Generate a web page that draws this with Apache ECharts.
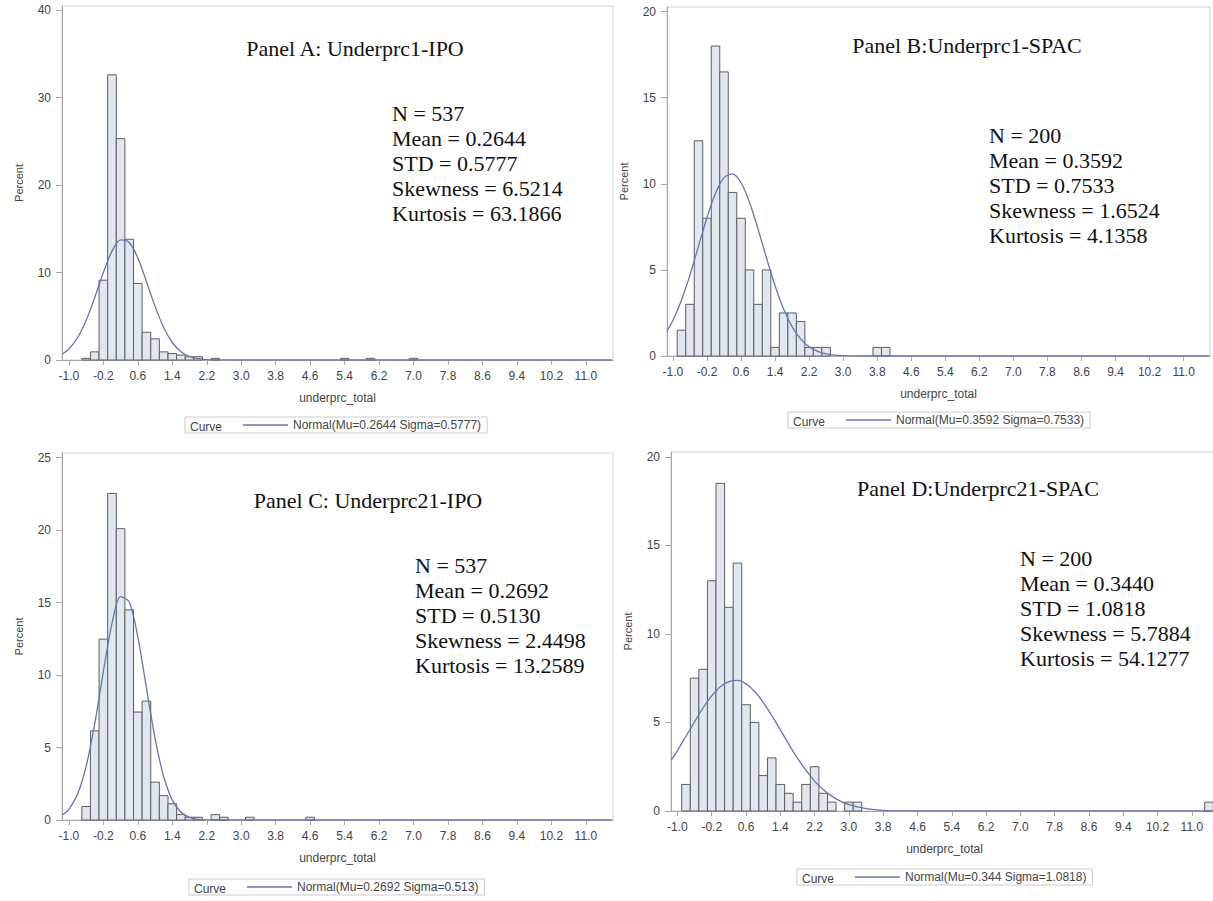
<!DOCTYPE html>
<html>
<head>
<meta charset="utf-8">
<title>underprc_total histograms</title>
<script src="https://cdn.jsdelivr.net/npm/echarts@6/dist/echarts.min.js"></script>
<style>
  html, body { margin: 0; padding: 0; background: #fff; }
  #main { width: 1213px; height: 901px; }
</style>
</head>
<body>
<div id="main"></div>
<script>
// every histogram uses bins 0.2 wide, given by their midpoints
var BIN_WIDTH = 0.2;

// Panel A: Underprc1-IPO
var binsA = [-0.6, -0.4, -0.2, 0.0, 0.2, 0.4, 0.6, 0.8, 1.0, 1.2, 1.4, 1.6, 1.8, 2.0, 2.4, 5.4, 6.0, 7.0];
var pctA  = [0.19, 0.93, 9.12, 32.6, 25.3, 13.8, 8.75, 3.17, 2.42, 0.93, 0.74, 0.56, 0.37, 0.37, 0.19, 0.19, 0.19, 0.19];
var curveXA = [-1.15, -1.0, -0.8, -0.6, -0.4, -0.2, 0.0, 0.2, 0.4, 0.6, 0.8, 1.0, 1.2, 1.4, 1.6, 1.8, 2.0, 2.2, 2.4, 2.8, 11.6];
var curveYA = [0.69, 1.26, 2.54, 4.52, 7.14, 10.0, 12.44, 13.72, 13.43, 11.67, 8.98, 6.13, 3.72, 2.0, 0.95, 0.40, 0.15, 0.05, 0.02, 0, 0];

// Panel B: Underprc1-SPAC
var binsB = [-0.8, -0.6, -0.4, -0.2, 0.0, 0.2, 0.4, 0.6, 0.8, 1.0, 1.2, 1.4, 1.6, 1.8, 2.0, 2.2, 2.4, 2.6, 3.8, 4.0];
var pctB  = [1.5, 3.0, 12.5, 8.0, 18.0, 16.5, 9.5, 8.0, 5.0, 3.0, 5.0, 0.5, 2.5, 2.5, 2.0, 0.5, 0.5, 0.5, 0.5, 0.5];
var curveXB = [-1.14, -1.0, -0.8, -0.6, -0.4, -0.2, 0.0, 0.2, 0.4, 0.6, 0.8, 1.0, 1.2, 1.4, 1.6, 1.8, 2.0, 2.2, 2.4, 2.6, 2.8, 3.0, 3.4, 11.6];
var curveYB = [1.46, 2.08, 3.24, 4.71, 6.37, 8.04, 9.45, 10.36, 10.58, 10.06, 8.92, 7.37, 5.68, 4.08, 2.73, 1.70, 0.99, 0.53, 0.27, 0.13, 0.05, 0.02, 0, 0];

// Panel C: Underprc21-IPO
var binsC = [-0.6, -0.4, -0.2, 0.0, 0.2, 0.4, 0.6, 0.8, 1.0, 1.2, 1.4, 1.6, 1.8, 2.0, 2.4, 2.6, 3.2, 4.6];
var pctC  = [0.93, 6.15, 12.48, 22.53, 20.1, 14.5, 7.45, 8.2, 2.61, 1.68, 1.12, 0.37, 0.19, 0.19, 0.37, 0.19, 0.19, 0.19];
var curveXC = [-1.15, -1.0, -0.8, -0.6, -0.4, -0.2, 0.0, 0.2, 0.4, 0.6, 0.8, 1.0, 1.2, 1.4, 1.6, 1.8, 2.0, 2.2, 2.6, 11.6];
var curveYC = [0.34, 0.73, 1.77, 3.70, 6.65, 10.24, 13.55, 15.41, 15.05, 12.63, 9.10, 5.64, 3.00, 1.37, 0.54, 0.18, 0.05, 0.01, 0, 0];

// Panel D: Underprc21-SPAC
var binsD = [-0.8, -0.6, -0.4, -0.2, 0.0, 0.2, 0.4, 0.6, 0.8, 1.0, 1.2, 1.4, 1.6, 1.8, 2.0, 2.2, 2.4, 2.6, 3.0, 3.2, 11.4];
var pctD  = [1.5, 7.5, 8.0, 13.0, 18.5, 11.5, 14.0, 6.0, 5.0, 2.0, 3.0, 1.5, 1.0, 0.5, 1.5, 2.5, 1.0, 0.5, 0.5, 0.5, 0.5];
var curveXD = [-1.14, -1.0, -0.8, -0.6, -0.4, -0.2, 0.0, 0.2, 0.4, 0.6, 0.8, 1.0, 1.2, 1.4, 1.6, 1.8, 2.0, 2.2, 2.4, 2.6, 2.8, 3.0, 3.2, 3.4, 3.6, 3.8, 4.2, 4.6, 11.6];
var curveYD = [2.88, 3.41, 4.22, 5.04, 5.83, 6.50, 7.02, 7.31, 7.37, 7.18, 6.75, 6.14, 5.40, 4.58, 3.76, 2.98, 2.29, 1.69, 1.21, 0.84, 0.56, 0.36, 0.23, 0.14, 0.08, 0.04, 0.01, 0, 0];

// tick labels
var xTicks = [-1.0, -0.2, 0.6, 1.4, 2.2, 3.0, 3.8, 4.6, 5.4, 6.2, 7.0, 7.8, 8.6, 9.4, 10.2, 11.0];
var yTicksA = [0, 10, 20, 30, 40];
var yTicksB = [0, 5, 10, 15, 20];
var yTicksC = [0, 5, 10, 15, 20, 25];
var yTicksD = [0, 5, 10, 15, 20];

// texts
var titles = ['Panel A: Underprc1-IPO', 'Panel B:Underprc1-SPAC', 'Panel C: Underprc21-IPO', 'Panel D:Underprc21-SPAC'];
var curveNames = ['Normal(Mu=0.2644 Sigma=0.5777)', 'Normal(Mu=0.3592 Sigma=0.7533)', 'Normal(Mu=0.2692 Sigma=0.513)', 'Normal(Mu=0.344 Sigma=1.0818)'];
var statsA = ['N = 537', 'Mean = 0.2644', 'STD = 0.5777', 'Skewness = 6.5214', 'Kurtosis = 63.1866'];
var statsB = ['N = 200', 'Mean = 0.3592', 'STD = 0.7533', 'Skewness = 1.6524', 'Kurtosis = 4.1358'];
var statsC = ['N = 537', 'Mean = 0.2692', 'STD = 0.5130', 'Skewness = 2.4498', 'Kurtosis = 13.2589'];
var statsD = ['N = 200', 'Mean = 0.3440', 'STD = 1.0818', 'Skewness = 5.7884', 'Kurtosis = 54.1277'];

// layout of the four panels (pixels) and axis ranges
var panels = [
  { bins: binsA, pct: pctA, cx: curveXA, cy: curveYA, yTicks: yTicksA, stats: statsA,
    frame: [62, 6, 613, 360], xMin: -1.16, xMax: 11.63, yMax: 40.46,
    title: [355, 48], statPos: [392, 113], legend: [185, 417] },
  { bins: binsB, pct: pctB, cx: curveXB, cy: curveYB, yTicks: yTicksB, stats: statsB,
    frame: [667, 7, 1210, 356], xMin: -1.14, xMax: 11.62, yMax: 20.27,
    title: [967, 45], statPos: [989, 135], legend: [788, 412] },
  { bins: binsC, pct: pctC, cx: curveXC, cy: curveYC, yTicks: yTicksC, stats: statsC,
    frame: [62, 453, 613, 820], xMin: -1.16, xMax: 11.63, yMax: 25.32,
    title: [368, 500], statPos: [415, 565], legend: [189, 879] },
  { bins: binsD, pct: pctD, cx: curveXD, cy: curveYD, yTicks: yTicksD, stats: statsD,
    frame: [671, 452, 1218, 811], xMin: -1.15, xMax: 11.61, yMax: 20.27,
    title: [978, 488], statPos: [1020, 558], legend: [797, 869] }
];

var BAR_FILL = '#e1e7f1';
var BAR_EDGE = '#5e5e5e';
var CURVE = '#6674b2';
var AXIS_GRAY = '#a8a8a8';
var TEXT_GRAY = '#444';
var SANS = '"Liberation Sans", Arial, sans-serif';
var SERIF = '"Liberation Serif", "Times New Roman", serif';

function renderBar(params, api) {
  var mid = api.value(0);
  var pct = api.value(1);
  var p0 = api.coord([mid - BIN_WIDTH / 2, pct]);
  var p1 = api.coord([mid + BIN_WIDTH / 2, 0]);
  return {
    type: 'rect',
    shape: { x: p0[0], y: p0[1], width: p1[0] - p0[0], height: p1[1] - p0[1] },
    style: { fill: BAR_FILL, stroke: BAR_EDGE, lineWidth: 1 }
  };
}

var grids = [], xAxes = [], yAxes = [], series = [], legends = [], graphics = [];

panels.forEach(function (p, i) {
  var f = p.frame;
  grids.push({
    left: f[0], top: f[1], width: f[2] - f[0], height: f[3] - f[1],
    show: true, borderColor: '#cfcfcf', borderWidth: 1, backgroundColor: '#fff',
    containLabel: false, outerBoundsMode: 'none'
  });
  xAxes.push({
    type: 'value', gridIndex: i, min: p.xMin, max: p.xMax, position: 'bottom',
    name: 'underprc_total', nameLocation: 'middle', nameGap: 32,
    nameTextStyle: { fontSize: 12, color: TEXT_GRAY, fontFamily: SANS },
    splitLine: { show: false },
    axisLine: { onZero: false, lineStyle: { color: AXIS_GRAY } },
    axisTick: { customValues: xTicks, length: 5, lineStyle: { color: AXIS_GRAY } },
    axisLabel: { customValues: xTicks, margin: 10, fontSize: 12, color: TEXT_GRAY, fontFamily: SANS,
      formatter: function (v) { return v.toFixed(1); } }
  });
  yAxes.push({
    type: 'value', gridIndex: i, min: 0, max: p.yMax, position: 'left',
    name: 'Percent', nameLocation: 'middle', nameRotate: 90, nameGap: 38,
    nameTextStyle: { fontSize: 11, color: TEXT_GRAY, fontFamily: SANS },
    splitLine: { show: false },
    axisLine: { show: true, onZero: false, lineStyle: { color: AXIS_GRAY } },
    axisTick: { show: true, customValues: p.yTicks, length: 6, lineStyle: { color: AXIS_GRAY } },
    axisLabel: { customValues: p.yTicks, margin: 11, fontSize: 12, color: TEXT_GRAY, fontFamily: SANS }
  });

  series.push({
    type: 'custom', name: 'bars' + i, xAxisIndex: i, yAxisIndex: i,
    renderItem: renderBar, encode: { x: 0, y: 1 }, silent: true,
    data: p.bins.map(function (b, k) { return [b, p.pct[k]]; })
  });
  series.push({
    type: 'line', name: curveNames[i], xAxisIndex: i, yAxisIndex: i,
    smooth: 0.3, symbol: 'none', silent: true, z: 5,
    lineStyle: { color: CURVE, width: 1.3 }, itemStyle: { color: CURVE },
    data: p.cx.map(function (x, k) { return [x, p.cy[k]]; })
  });

  legends.push({
    data: [curveNames[i]], left: p.legend[0], top: p.legend[1],
    orient: 'horizontal', padding: [2, 6, 2, 58],
    borderColor: '#cccccc', borderWidth: 1, selectedMode: false,
    icon: 'rect', itemWidth: 45, itemHeight: 1.5,
    textStyle: { fontSize: 12, color: TEXT_GRAY, fontFamily: SANS }
  });

  graphics.push({
    type: 'text', x: p.legend[0] + 5, y: p.legend[1] + 10,
    style: { text: 'Curve', fontSize: 12, fontFamily: SANS, fill: TEXT_GRAY,
      align: 'left', verticalAlign: 'middle', textAlign: 'left', textVerticalAlign: 'middle' }
  });
  graphics.push({
    type: 'text', x: p.title[0], y: p.title[1],
    style: { text: titles[i], fontSize: 22, fontFamily: SERIF, fill: '#111',
      align: 'center', verticalAlign: 'middle', textAlign: 'center', textVerticalAlign: 'middle' }
  });
  graphics.push({
    type: 'text', x: p.statPos[0], y: p.statPos[1] - 12.5,
    style: { text: p.stats.join('\n'), fontSize: 22, lineHeight: 25, fontFamily: SERIF, fill: '#111',
      align: 'left', verticalAlign: 'top', textAlign: 'left', textVerticalAlign: 'top' }
  });
});

var chart = echarts.init(document.getElementById('main'), null, { renderer: 'svg' });
chart.setOption({
  animation: false,
  backgroundColor: '#fff',
  grid: grids,
  xAxis: xAxes,
  yAxis: yAxes,
  legend: legends,
  series: series,
  graphic: graphics
});
</script>
</body>
</html>
